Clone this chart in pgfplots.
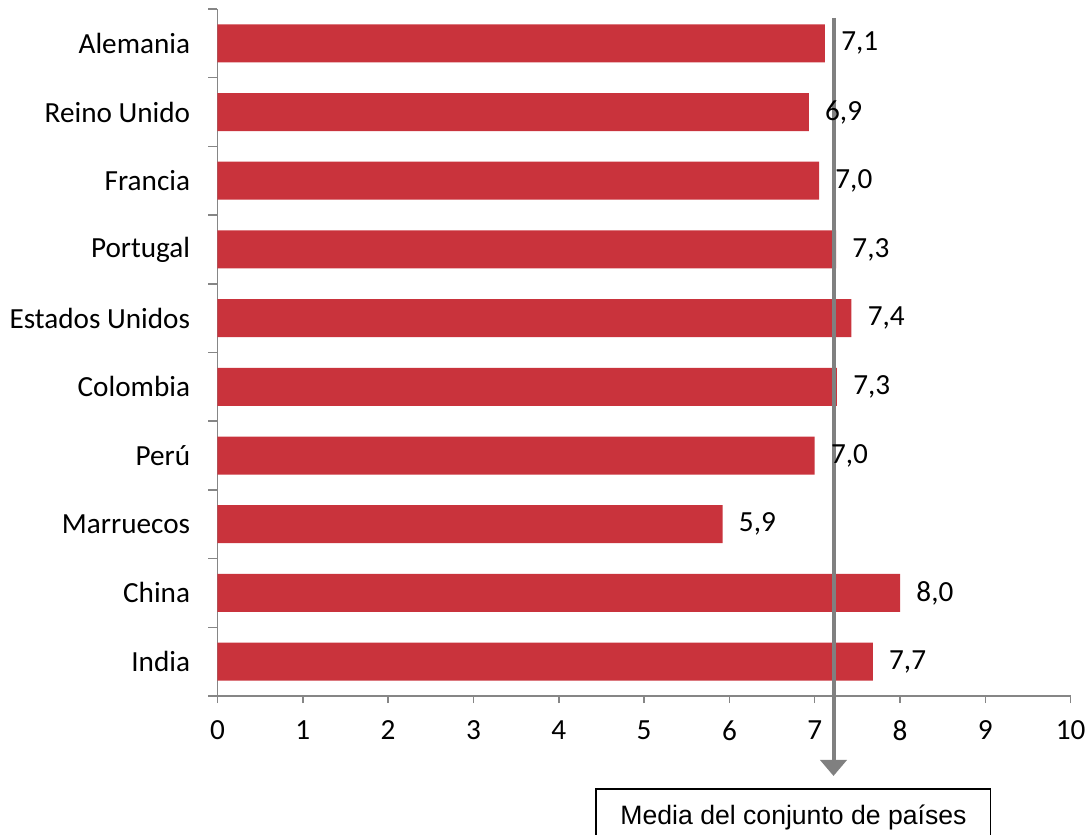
\documentclass[border=0pt]{standalone}
\usepackage{pgfplots}
\pgfplotsset{compat=1.18}
\usepackage{pgfplotstable}
\usepackage{fontspec}
\setmainfont{Carlito}
\newfontfamily\arialfont{Liberation Sans}
\usetikzlibrary{arrows.meta}
\definecolor{barred}{RGB}{201,51,60}
\definecolor{axgray}{RGB}{134,134,134}
\definecolor{meangray}{RGB}{128,128,128}

\pgfplotstableread{
i v lab
9 7.12 7,1
8 6.93 6,9
7 7.05 7,0
6 7.25 7,3
5 7.43 7,4
4 7.26 7,3
3 7.00 7,0
2 5.92 5,9
1 8.00 8,0
0 7.68 7,7
}\datatable

\begin{document}
\begin{tikzpicture}[x=1pt,y=1pt]
\useasboundingbox (-108.75,-69.5) rectangle (437.25,348);
\begin{axis}[
  at={(0,0)}, anchor=south west,
  scale only axis, width=426.6pt, height=343.5pt,
  xmin=0, xmax=10, ymin=-0.5, ymax=9.5,
  xbar, bar width=19pt,
  axis x line*=bottom, axis y line*=left,
  axis line style={axgray, line width=0.75pt, -},
  every tick/.style={axgray, line width=0.75pt},
  tick align=outside,
  xtick={0,1,...,10},
  ytick={0,1,...,9},
  yticklabels={India,China,Marruecos,Perú,Colombia,Estados Unidos,Portugal,Francia,Reino Unido,Alemania},
  minor ytick={-0.5,0.5,...,9.5},
  major tick length=3.5pt,
  minor tick length=4.5pt,
  major y tick style={draw=none},
  minor y tick style={axgray, line width=0.75pt},
  /pgf/number format/assume math mode=true,
  tick label style={font=\fontsize{14.6}{17}\selectfont, inner sep=0pt},
  xticklabel style={anchor=north, yshift=-8.5pt},
  yticklabel style={anchor=east, xshift=-10pt},
  nodes near coords,
  point meta=explicit symbolic,
  nodes near coords style={anchor=west, inner sep=0pt, xshift=8pt, font=\fontsize{14.6}{17}\selectfont, black},
  clip=false,
]
\addplot[fill=barred, draw=none] table[x=v, y=i, meta=lab] {\datatable};
\draw[meangray, line width=2pt, -{Triangle[width=13pt,length=8pt]}] (axis cs:7.22,9.369) -- (axis cs:7.22,-1.664);
\end{axis}
\draw[black, line width=0.75pt] (189.25,-100) -- (189.25,-46.5) -- (386.6,-46.5) -- (386.6,-100);
\node[anchor=base, font=\arialfont\fontsize{13.3}{16}\selectfont, inner sep=0pt] at (288,-64) {Media del conjunto de países};
\end{tikzpicture}
\end{document}
